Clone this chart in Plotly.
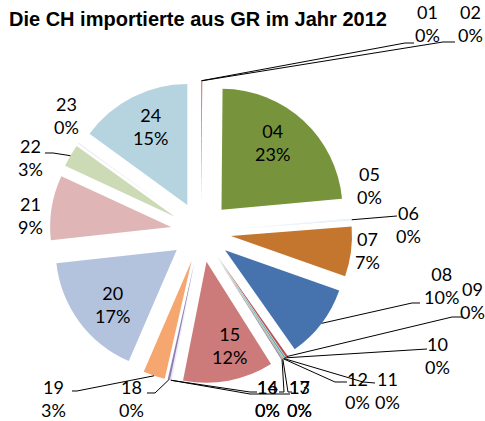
import math
import plotly.graph_objects as go

# ---- data ----
categories = ["01", "02", "04", "05", "06", "07", "08", "09", "10", "11", "12", "13",
              "14", "15", "16", "17", "18", "19", "20", "21", "22", "23", "24"]
shares = [0.07, 0.07, 23.3, 0.1, 0.1, 6.6, 9.8, 0.3, 0.2, 0.05, 0.05, 0.1,
          0.1, 12.0, 0.05, 0.1, 0.3, 2.9, 16.7, 8.6, 3.0, 0.1, 14.9]
colors = ["#4F81BD", "#C0504D", "#77933C", "#E6EEF7", "#DCE6F2", "#C4762F", "#4673AE",
          "#B9504C", "#4BACC6", "#F79646", "#4F81BD", "#9BBB59", "#8064A2", "#CC7A7A",
          "#D0DDEF", "#E6E0EC", "#8E7CB6", "#F6A66F", "#B3C2DD", "#DFB5B5", "#CCDAB5",
          "#E0DAE9", "#B6D4E0"]
title_text = "Die CH importierte aus GR im Jahr 2012"

# ---- layout constants (pixels) ----
W, H = 485, 421
CX, CY, R = 201.0, 232.0, 151.25   # pie centre and outer radius incl. explosion
PULL = 0.25

def px(x):
    return x / W

def py(y):
    return 1 - y / H

# label placement: category -> (centre x, centre y, leader path points or None)
label_pos = {
    "01": (427, 24, [(405, 43), (414, 43)]),
    "02": (470, 24, [(443, 42), (455, 42)]),
    "04": (272, 142, None),
    "05": (369, 185, None),
    "06": (408, 224, [(397, 216)]),
    "07": (367, 250, None),
    "08": (441, 285, [(412, 303), (420, 303)]),
    "09": (472, 300, [(452, 317), (462, 317)]),
    "10": (437, 355, [(427, 349)]),
    "11": (387, 390, [(363, 382), (375, 383)]),
    "12": (357, 390, [(335, 382), (347, 382)]),
    "13": (299, 398.5, [(288, 392), (292, 392)]),
    "14": (267, 398.5, [(284, 392), (279, 392)]),
    "15": (229, 345, None),
    "16": (267, 398.5, [(250, 392), (257, 392)]),
    "17": (299, 398.5, [(250, 394), (290, 394)]),
    "18": (131, 398.5, [(155, 393), (147, 393)]),
    "19": (53, 398.5, [(77, 391), (72, 391)]),
    "20": (112, 304, None),
    "21": (30, 215, None),
    "22": (31, 158, [(53, 153), (45, 153)]),
    "23": (66, 115, None),
    "24": (150, 126, None),
}

total = sum(shares)

fig = go.Figure(go.Pie(
    labels=categories,
    values=shares,
    marker=dict(colors=colors, line=dict(width=0)),
    sort=False,
    direction="clockwise",
    rotation=0,
    pull=[PULL] * len(shares),
    textinfo="none",
    hoverinfo="label+percent",
    domain=dict(x=[px(CX - R), px(CX + R)], y=[py(CY + R), py(CY - R)]),
))

annotations = []
shapes = []
cum = 0.0
for cat, v in zip(categories, shares):
    mid = (cum + v / 2) / total * 2 * math.pi
    cum += v
    tipx = CX + R * math.sin(mid)
    tipy = CY - R * math.cos(mid)
    lx, ly, leader = label_pos[cat]
    pct = round(v / total * 100)
    annotations.append(dict(
        x=px(lx), y=py(ly), xref="paper", yref="paper",
        text=f"{cat}<br>{pct}%", showarrow=False,
        xanchor="center", yanchor="middle",
        font=dict(family="Lato", size=18, color="#000000"),
    ))
    if leader:
        pts = [(tipx, tipy)] + leader
        path = "M " + " L ".join(f"{px(a):.5f},{py(b):.5f}" for a, b in pts)
        shapes.append(dict(type="path", xref="paper", yref="paper", path=path,
                           line=dict(color="#000000", width=1)))

annotations.append(dict(
    x=px(7), y=py(18.5), xref="paper", yref="paper",
    text=f"<b>{title_text}</b>", showarrow=False,
    xanchor="left", yanchor="middle",
    font=dict(family="Liberation Sans", size=20, color="#000000"),
))

fig.update_layout(
    width=W, height=H,
    margin=dict(l=0, r=0, t=0, b=0),
    paper_bgcolor="#FFFFFF",
    plot_bgcolor="#FFFFFF",
    showlegend=False,
    annotations=annotations,
    shapes=shapes,
)

fig.write_html("out.html",
               config={"displayModeBar": False},
               post_script="document.body.style.margin='0px';document.body.style.overflow='hidden';")
